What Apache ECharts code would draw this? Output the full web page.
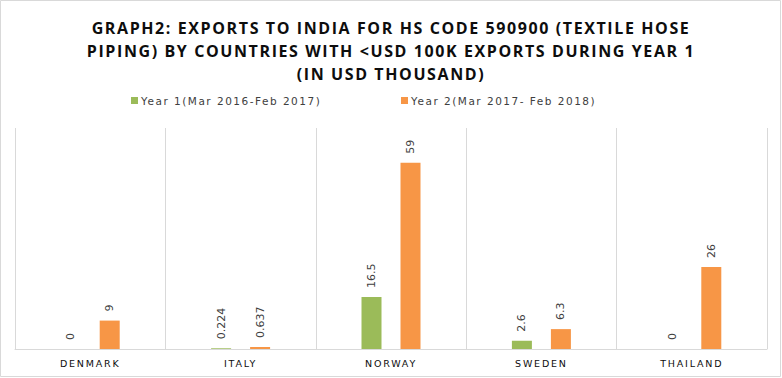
<!DOCTYPE html>
<html>
<head>
<meta charset="utf-8">
<script src="https://cdn.jsdelivr.net/npm/echarts@6/dist/echarts.min.js"></script>
<style>
html,body{margin:0;padding:0;background:#fff;}
#chart{width:782px;height:378px;}
#chart text[style*="16px"]{letter-spacing:1.6px;}
#chart text[style*="10.5px"]{letter-spacing:1.5px;}
#chart text[style*="9.5px"]{letter-spacing:1.8px;}
</style>
</head>
<body>
<div id="chart"></div>
<script>
const categories = ['DENMARK', 'ITALY', 'NORWAY', 'SWEDEN', 'THAILAND'];
const year1Name = 'Year 1(Mar 2016-Feb 2017)';
const year2Name = 'Year 2(Mar 2017- Feb 2018)';
const year1Values = [0, 0.224, 16.5, 2.6, 0];
const year2Values = [9, 0.637, 59, 6.3, 26];
const titleText = 'GRAPH2: EXPORTS TO INDIA FOR HS CODE 590900 (TEXTILE HOSE\nPIPING) BY COUNTRIES WITH <USD 100K EXPORTS DURING YEAR 1\n(IN USD THOUSAND)';

const chart = echarts.init(document.getElementById('chart'), null, {renderer: 'svg'});
const labelCfg = {
  show: true,
  position: 'top',
  rotate: 90,
  align: 'left',
  verticalAlign: 'middle',
  distance: 9,
  fontFamily: 'DejaVu Sans',
  fontSize: 11,
  color: '#404040'
};
const legendText = {fontFamily: 'DejaVu Sans', fontSize: 10.5, color: '#404040', padding: [0, 0, 0, -2]};
chart.setOption({
  animation: false,
  backgroundColor: '#fff',
  graphic: [{
    type: 'rect',
    shape: {x: 0.5, y: 0.5, width: 780, height: 376},
    style: {fill: 'none', stroke: '#d9d9d9', lineWidth: 1},
    silent: true
  }],
  title: {
    text: titleText,
    left: 'center',
    top: 11,
    textStyle: {
      fontFamily: 'Open Sans',
      fontWeight: 'bold',
      fontSize: 16,
      lineHeight: 23,
      color: '#0d0d0d'
    }
  },
  legend: [{
    data: [year1Name],
    left: 131,
    top: 95,
    padding: 0,
    itemWidth: 7,
    itemHeight: 7,
    icon: 'rect',
    textStyle: legendText
  }, {
    data: [year2Name],
    left: 401,
    top: 95,
    padding: 0,
    itemWidth: 7,
    itemHeight: 7,
    icon: 'rect',
    textStyle: legendText
  }],
  grid: {left: 15, right: 15, top: 128, bottom: 29, containLabel: false},
  xAxis: {
    type: 'category',
    data: categories,
    axisLine: {lineStyle: {color: '#d9d9d9', width: 1}},
    axisTick: {show: false},
    splitLine: {show: true, lineStyle: {color: '#d9d9d9', width: 1}},
    axisLabel: {fontFamily: 'DejaVu Sans', fontSize: 9.5, color: '#0d0d0d', margin: 9}
  },
  yAxis: {
    type: 'value',
    min: 0,
    max: 70,
    show: false,
    splitLine: {show: false}
  },
  series: [{
    name: year1Name,
    type: 'bar',
    data: year1Values,
    barWidth: 20,
    barGap: '95%',
    itemStyle: {color: '#9BBB59'},
    label: labelCfg
  }, {
    name: year2Name,
    type: 'bar',
    data: year2Values,
    barWidth: 20,
    itemStyle: {color: '#F79646'},
    label: labelCfg
  }]
});
</script>
</body>
</html>
